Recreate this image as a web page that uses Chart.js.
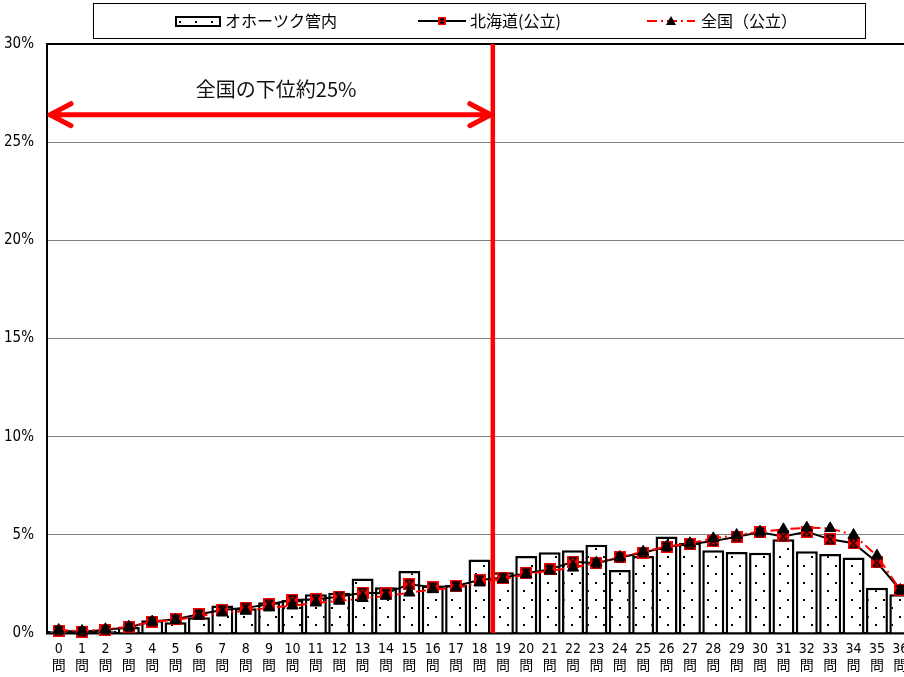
<html>
<head>
    <meta http-equiv="Content-Type" content="text/html; charset=utf-8"/>
    <title>正答数分布</title>
    <style>
        body { margin: 0; overflow: hidden; background: #fff; }
    </style>
</head>
<body>

<canvas id="bunpu" width="920" height="677"></canvas>

<script src="https://cdn.jsdelivr.net/npm/chart.js@4/dist/chart.umd.min.js"></script>
<script type="text/javascript">

// 正答数 (0問 ... 36問)
var seitou = [0, 1, 2, 3, 4, 5, 6, 7, 8, 9, 10, 11, 12, 13, 14, 15, 16, 17, 18,
              19, 20, 21, 22, 23, 24, 25, 26, 27, 28, 29, 30, 31, 32, 33, 34, 35, 36];

var seriesNames = ["オホーツク管内", "北海道(公立)", "全国（公立）"];

// % of pupils
var okhotsk = [0.1, 0.05, 0.1, 0.3, 0.65, 0.55, 0.8, 1.4, 1.26, 1.56, 1.68, 1.98, 2.05,
               2.78, 2.33, 3.16, 2.42, 2.44, 3.75, 3.09, 3.92, 4.11, 4.21, 4.5, 3.21,
               3.92, 4.92, 4.6, 4.21, 4.12, 4.09, 4.77, 4.17, 4.02, 3.84, 2.31, 1.97];

var hokkaido = [0.12, 0.07, 0.15, 0.29, 0.58, 0.7, 0.95, 1.17, 1.28, 1.46, 1.68, 1.72, 1.85,
                2.05, 2.02, 2.48, 2.33, 2.39, 2.7, 2.82, 3.04, 3.24, 3.63, 3.55, 3.85,
                4.09, 4.39, 4.52, 4.68, 4.9, 5.13, 4.92, 5.16, 4.77, 4.57, 3.6, 2.19];

var zenkoku = [0.15, 0.1, 0.19, 0.32, 0.58, 0.66, 0.87, 1.03, 1.12, 1.29, 1.39, 1.54, 1.63,
               1.77, 1.88, 2.05, 2.22, 2.31, 2.56, 2.73, 2.99, 3.17, 3.32, 3.58, 3.87,
               4.14, 4.39, 4.57, 4.82, 4.99, 5.16, 5.28, 5.36, 5.33, 4.99, 3.94, 2.19];

var yTicks = [0, 5, 10, 15, 20, 25, 30];

// 全国の下位約25% marker
var cutoffText = "全国の下位約25%";
var cutoffAt = 18.57;     // between 18問 and 19問
var arrowAt = 26.4;       // % level of the arrow
var textAt = [9.3, 27.7]; // category, %

var CJK = "'Noto Sans CJK JP', 'Noto Sans'";
var NARROW = "'Liberation Sans Narrow', 'DejaVu Sans Condensed', 'Noto Sans CJK JP'";

function kropki(ctx)
{
    var c = document.createElement("canvas");
    c.width = 16; c.height = 17;
    var g = c.getContext("2d");
    g.fillStyle = "#ffffff";
    g.fillRect(0, 0, 16, 17);
    g.fillStyle = "#000000";
    g.fillRect(3, 4, 2, 2);
    g.fillRect(11, 12, 2, 2);
    return ctx.createPattern(c, "repeat");
}

function krzyzyk(s)
{
    var c = document.createElement("canvas");
    c.width = s; c.height = s;
    var g = c.getContext("2d");
    g.fillStyle = "#ff0000";
    g.fillRect(0, 0, s, s);
    g.strokeStyle = "#000000";
    g.lineWidth = 1.6;
    g.beginPath();
    g.moveTo(2, 2); g.lineTo(s - 2, s - 2);
    g.moveTo(s - 2, 2); g.lineTo(2, s - 2);
    g.moveTo(2, 2); g.lineTo(s - 2, 2);
    g.moveTo(2, s - 2); g.lineTo(s - 2, s - 2);
    g.stroke();
    return c;
}

var labels = [];
for (var i = 0; i < seitou.length; ++i) labels.push(["" + seitou[i], "問"]);

var ctx = document.getElementById("bunpu").getContext("2d");
var wzor = kropki(ctx);
var marker = krzyzyk(12);

var legenda = {
    id: "legenda",
    afterDraw: function(chart) {
        var g = chart.ctx;
        g.save();
        g.strokeStyle = "#000000";
        g.lineWidth = 1;
        g.strokeRect(93.5, 3.5, 772, 35);

        var y = 21;
        g.font = "16px " + CJK;
        g.textBaseline = "middle";
        g.fillStyle = "#000000";

        // bars
        g.fillStyle = wzor;
        g.fillRect(176, 17, 44, 9);
        g.strokeStyle = "#000000";
        g.lineWidth = 2;
        g.strokeRect(176, 17, 44, 9);
        g.fillStyle = "#000000";
        g.fillText(seriesNames[0], 225, y);

        // hokkaido
        g.beginPath();
        g.moveTo(418, y); g.lineTo(466, y);
        g.lineWidth = 2;
        g.strokeStyle = "#000000";
        g.stroke();
        g.drawImage(krzyzyk(8), 438, y - 4, 8, 8);
        g.fillText(seriesNames[1], 470, y);

        // zenkoku
        g.beginPath();
        g.moveTo(647, y); g.lineTo(695, y);
        g.setLineDash([10, 4, 2, 4]);
        g.strokeStyle = "#ff0000";
        g.stroke();
        g.setLineDash([]);
        g.fillStyle = "#000000";
        g.beginPath();
        g.moveTo(671, y - 5); g.lineTo(676, y + 4); g.lineTo(666, y + 4);
        g.closePath();
        g.fill();
        g.fillText(seriesNames[2], 701, y);
        g.restore();
    }
};

var strzalka = {
    id: "strzalka",
    afterDatasetsDraw: function(chart) {
        var g = chart.ctx;
        var xs = chart.scales.x, ys = chart.scales.y, a = chart.chartArea;
        var xc = xs.getPixelForValue(cutoffAt);
        g.save();
        g.strokeStyle = "#ff0000";
        g.lineWidth = 4.5;
        g.beginPath();
        g.moveTo(xc, a.top); g.lineTo(xc, a.bottom);
        g.stroke();

        var ya = ys.getPixelForValue(arrowAt);
        var x1 = a.left + 3, x2 = xc - 2;
        g.lineWidth = 5;
        g.lineCap = "round";
        g.lineJoin = "round";
        g.beginPath();
        g.moveTo(x1, ya); g.lineTo(x2, ya);
        g.moveTo(x1 + 21, ya - 11); g.lineTo(x1, ya); g.lineTo(x1 + 21, ya + 11);
        g.moveTo(x2 - 21, ya - 11); g.lineTo(x2, ya); g.lineTo(x2 - 21, ya + 11);
        g.stroke();

        g.fillStyle = "#111111";
        g.font = "20px " + CJK;
        g.textAlign = "center";
        g.textBaseline = "middle";
        g.fillText(cutoffText, xs.getPixelForValue(textAt[0]), ys.getPixelForValue(textAt[1]));
        g.restore();
    }
};

var czort = new Chart(ctx, {
    type: "bar",
    data: {
        labels: labels,
        datasets: [
        {
            label: seriesNames[0],
            data: okhotsk,
            backgroundColor: wzor,
            borderColor: "#000000",
            borderWidth: 2.5,
            barPercentage: 1,
            categoryPercentage: 0.94,
            order: 3
        },
        {
            type: "line",
            label: seriesNames[1],
            data: hokkaido,
            borderColor: "#000000",
            borderWidth: 2,
            pointStyle: marker,
            pointRadius: 6,
            tension: 0,
            clip: false,
            order: 2
        },
        {
            type: "line",
            label: seriesNames[2],
            data: zenkoku,
            borderColor: "#ff0000",
            borderWidth: 2,
            borderDash: [10, 4, 2, 4],
            pointStyle: "triangle",
            pointRadius: 6.5,
            pointBackgroundColor: "#000000",
            pointBorderColor: "#000000",
            pointBorderWidth: 1,
            tension: 0,
            clip: false,
            order: 1
        }]
    },
    options: {
        responsive: false,
        animation: false,
        devicePixelRatio: 1,
        layout: { padding: { top: 44, right: 7, left: 0, bottom: 0 } },
        plugins: {
            legend: { display: false },
            tooltip: { enabled: false }
        },
        scales: {
            x: {
                grid: { display: false, drawTicks: false },
                border: { display: true, color: "#000000", width: 2.5 },
                ticks: {
                    color: "#000000",
                    padding: 8,
                    autoSkip: false,
                    maxRotation: 0,
                    font: { family: NARROW, size: 14, lineHeight: 1.2 }
                },
                afterFit: function(s) { s.height = 44; }
            },
            y: {
                min: 0,
                max: 30,
                afterBuildTicks: function(s) {
                    s.ticks = yTicks.map(function(v) { return { value: v }; });
                },
                grid: {
                    drawTicks: false,
                    color: function(c) { return c.tick && c.tick.value === 30 ? "#000000" : "#808080"; },
                    lineWidth: function(c) { return c.tick && c.tick.value === 30 ? 2 : 1; }
                },
                border: { display: true, color: "#000000", width: 2 },
                ticks: {
                    color: "#000000",
                    padding: 13,
                    font: { family: NARROW, size: 15 },
                    callback: function(v) { return v + "%"; }
                },
                afterFit: function(s) { s.width = 47; }
            }
        }
    },
    plugins: [legenda, strzalka]
});

</script>
</body>
</html>
